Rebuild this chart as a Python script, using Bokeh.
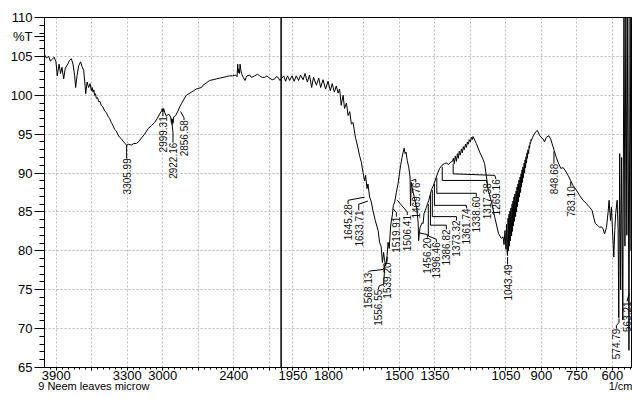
import numpy as np
from bokeh.plotting import figure
from bokeh.models import Range1d, FixedTicker, Span, LinearAxis
from bokeh.embed import file_html
from bokeh.resources import INLINE
from bokeh.core.properties import value

# ---------------- spectrum data (wavenumber 1/cm, %T) ----------------
wn_1 = [3999, 3985, 3965, 3950, 3936, 3919, 3903, 3892, 3877, 3864,
        3852, 3838, 3824, 3807, 3787, 3773, 3759, 3745, 3737, 3725,
        3711, 3695, 3683, 3669, 3657, 3652, 3640, 3627, 3615, 3604,
        3597, 3590, 3583, 3576, 3569, 3562, 3552, 3542, 3531, 3520,
        3506, 3492, 3478, 3463, 3449, 3435, 3421, 3407, 3393, 3378]
tr_1 = [105.2, 104.8, 105.0, 104.4, 104.6, 104.9, 104.3, 102.5, 104.0, 102.8,
        103.6, 102.1, 103.5, 103.9, 104.5, 104.7, 104.0, 102.5, 101.0, 102.5,
        103.8, 104.3, 103.7, 103.2, 101.3, 100.2, 101.7, 101.0, 101.5, 100.6,
        101.0, 100.4, 100.7, 100.0, 100.2, 99.6, 99.7, 99.2, 99.2, 98.7,
        98.5, 98.0, 97.8, 97.3, 97.0, 96.5, 96.1, 95.6, 95.4, 94.9]

wn_2 = [3365, 3350, 3336, 3320, 3306, 3290, 3266, 3245, 3224, 3200,
        3181, 3154, 3125, 3097, 3069, 3048, 3027, 3010, 3005, 2999,
        2993, 2984, 2970, 2951, 2934, 2928, 2925, 2922, 2918, 2914,
        2908, 2891, 2871, 2858, 2843, 2821, 2801, 2780, 2759, 2738,
        2717, 2695, 2674, 2660, 2632, 2604, 2576, 2548, 2520, 2491,
        2463, 2435, 2410, 2384, 2372, 2367, 2362, 2356, 2351, 2347,
        2341, 2334, 2320, 2305, 2296, 2288, 2266, 2250, 2224, 2200,
        2181, 2160, 2139, 2120, 2097, 2075, 2054, 2040, 2026, 2010,
        2000]
tr_2 = [94.6, 94.4, 94.1, 93.8, 93.6, 93.7, 93.6, 93.8, 93.8, 94.1,
        94.5, 95.0, 95.7, 96.1, 96.5, 97.0, 97.6, 98.0, 98.3, 97.9,
        98.3, 97.8, 97.3, 97.6, 97.2, 96.5, 97.0, 96.2, 96.9, 96.4,
        97.2, 97.4, 98.0, 98.5, 98.9, 99.5, 100.0, 100.2, 100.4, 100.6,
        100.8, 100.9, 101.0, 101.3, 101.6, 101.9, 102.0, 102.1, 102.2, 102.3,
        102.4, 102.5, 102.5, 102.6, 102.4, 104.0, 102.9, 103.4, 102.8, 104.0,
        103.3, 102.8, 102.3, 101.9, 102.3, 102.5, 102.6, 102.3, 102.5, 102.7,
        102.5, 102.3, 102.3, 102.5, 102.2, 102.0, 102.1, 102.4, 102.3, 101.9,
        102.1]

wn_3 = [1989, 1981, 1973, 1964, 1954, 1945, 1936, 1926, 1918, 1907,
        1899, 1889, 1880, 1871, 1863, 1851, 1841, 1833, 1823, 1812,
        1802, 1792, 1784, 1775, 1767, 1759, 1753, 1746, 1738, 1732,
        1724, 1717, 1710, 1703, 1696, 1686, 1678, 1669, 1661, 1654,
        1647, 1643, 1637, 1633, 1626, 1619, 1612, 1602, 1590, 1584,
        1577, 1572, 1567, 1563, 1558, 1552, 1548, 1543, 1537, 1530,
        1526, 1520, 1513, 1506, 1500, 1495, 1489, 1485, 1480, 1476,
        1472, 1467, 1461, 1455, 1453, 1450, 1444, 1436, 1427, 1421,
        1419, 1413, 1404, 1400, 1396, 1386, 1376, 1365, 1354, 1344,
        1337, 1330, 1320, 1311, 1302, 1292, 1284, 1276]
tr_3 = [102.5, 101.8, 102.5, 101.9, 102.5, 101.8, 102.5, 101.9, 102.6, 102.0,
        102.8, 101.7, 102.6, 101.0, 102.3, 101.3, 102.2, 101.0, 102.0, 100.8,
        101.8, 100.6, 101.5, 100.4, 101.2, 100.3, 100.8, 98.7, 100.0, 98.3,
        99.0, 97.4, 97.9, 96.3, 96.5, 94.6, 93.6, 92.3, 91.4, 90.1,
        89.0, 89.7, 88.0, 88.6, 86.9, 86.3, 85.2, 83.9, 82.6, 81.1,
        80.5, 78.5, 79.8, 78.8, 78.1, 79.4, 81.1, 80.3, 83.3, 84.6,
        85.8, 86.3, 87.5, 88.6, 89.9, 91.0, 92.0, 92.6, 93.2, 92.5,
        92.7, 91.6, 90.8, 89.5, 85.8, 88.8, 87.8, 86.7, 85.4, 83.7,
        81.3, 83.0, 83.6, 83.5, 84.8, 85.6, 86.5, 87.8, 88.6, 89.5,
        90.1, 90.6, 91.0, 91.2, 91.3, 91.1, 91.4, 91.5]

wn_4 = [1272, 1268, 1264, 1259, 1255, 1251, 1247, 1243, 1238, 1234,
        1230, 1226, 1221, 1217, 1213, 1209, 1205, 1200, 1196, 1192, 1189]
tr_4 = [91.9, 91.2, 92.2, 91.5, 92.5, 91.9, 92.8, 92.3, 93.1, 92.6,
        93.4, 93.0, 93.7, 93.3, 94.0, 93.7, 94.3, 94.0, 94.6, 94.3, 94.7]

wn_5 = [1175, 1161, 1147, 1140, 1133, 1125, 1111, 1097, 1081, 1069,
        1062, 1058, 1054, 1050, 1047, 1045, 1043, 1041, 1039, 1037,
        1035, 1033, 1031, 1029, 1026, 1024, 1022, 1020, 1018, 1016,
        1014, 1012, 1009, 1007, 1005, 1003, 1001, 999, 997, 995,
        993, 990, 988, 986, 984, 982, 980, 978, 976, 973,
        971, 969, 967, 965, 963, 961, 959, 957, 954, 952,
        950, 948, 946, 944, 942, 937]
tr_5 = [93.8, 92.7, 91.8, 91.2, 89.7, 87.8, 86.3, 84.3, 82.2, 81.6,
        81.8, 80.8, 82.6, 80.2, 83.4, 79.8, 79.4, 84.2, 80.0, 84.7,
        80.6, 85.1, 81.3, 85.5, 81.9, 86.0, 82.5, 86.4, 83.2, 86.9,
        83.8, 87.3, 84.4, 87.7, 85.0, 88.2, 85.7, 88.6, 86.3, 89.1,
        86.9, 89.5, 87.5, 89.9, 88.2, 90.4, 88.8, 90.8, 89.4, 91.3,
        90.0, 91.7, 90.7, 92.1, 91.3, 92.6, 91.9, 93.0, 92.5, 93.5,
        93.2, 93.9, 93.8, 94.3, 94.2, 94.6]

wn_6 = [930, 924, 917, 907, 893, 887, 879, 869, 861, 855,
        846, 837, 827, 818, 808, 799, 787, 776, 766, 752,
        738, 724, 710, 700, 696, 686, 679, 672, 663, 654,
        646, 639, 633, 625, 618, 614, 608, 604, 600, 594,
        590, 586, 580, 576, 573, 569, 565, 561, 556, 551,
        547, 543, 539, 535, 530, 525, 521, 518]
tr_6 = [95.0, 95.3, 95.5, 94.8, 94.4, 94.0, 94.6, 94.8, 94.4, 93.8,
        92.9, 92.0, 91.2, 90.6, 90.7, 90.3, 89.7, 89.0, 88.4, 87.8,
        87.1, 86.5, 86.1, 85.7, 85.6, 85.2, 84.3, 83.5, 83.3, 83.0,
        83.1, 82.8, 82.2, 83.0, 85.0, 86.5, 83.9, 85.6, 83.0, 79.2,
        82.6, 84.8, 86.5, 83.0, 71.4, 92.5, 75.0, 92.0, 71.1, 112.0,
        80.6, 112.0, 82.0, 112.0, 67.2, 112.0, 80.0, 112.0]

# ---------------- peak labels ----------------
pk_text = ["3305.99", "2999.31", "2922.16", "2856.58", "1645.28", "1633.71",
           "1568.13", "1556.55", "1539.20", "1519.91", "1506.41", "1469.76",
           "1456.20", "1396.46", "1386.82", "1373.32", "1361.74", "1338.60",
           "1317.38", "1269.16", "1043.49", "848.68", "783.10", "574.79", "563.21"]
pk_tx = [3306, 2999, 2914, 2821, 1717, 1672, 1633, 1590, 1553, 1513, 1467, 1431,
         1382, 1344, 1302, 1259, 1217, 1175, 1131, 1092, 1043, 847, 776, 583, 538]
pk_ty = [91.9, 97.3, 93.9, 96.8, 86.0, 85.2, 77.2, 75.0, 78.5, 84.4, 84.6, 88.8,
         81.7, 81.1, 82.75, 83.9, 85.45, 87.0, 88.7, 89.2, 78.25, 91.2, 88.3, 70.0, 73.5]
lead_w = [[3306, 3306], [2999, 2999], [2914, 2914, 2921], [2821, 2821, 2849],
          [1717, 1717, 1647], [1672, 1672, 1633], [1633, 1627, 1569, 1555],
          [1590, 1585, 1567, 1561], [1553, 1551], [1513, 1513, 1526],
          [1467, 1467, 1509], [1431, 1431, 1450], [1382, 1382, 1415],
          [1344, 1344, 1378, 1378], [1302, 1302, 1369, 1369], [1259, 1259, 1361, 1361],
          [1217, 1217, 1352, 1352], [1175, 1175, 1342, 1342], [1131, 1131, 1319, 1319],
          [1092, 1097, 1273, 1273], [1043, 1043], [847, 847], [776, 776],
          [583, 583, 572, 572], [538, 533, 528]]
lead_t = [[91.9, 93.6], [97.3, 98.1], [93.9, 95.2, 96.2], [96.8, 97.1, 97.9],
          [86.0, 86.5, 86.9], [85.2, 86.0, 86.4], [77.2, 77.4, 77.6, 78.5],
          [75.0, 75.5, 75.7, 78.3], [78.5, 79.2], [84.4, 84.9, 85.4],
          [84.6, 85.0, 86.5], [88.8, 89.2, 89.0], [81.7, 82.1, 82.3],
          [81.1, 81.5, 81.9, 86.0], [82.75, 83.3, 83.3, 87.2], [83.9, 84.4, 84.4, 87.8],
          [85.45, 85.85, 85.85, 88.6], [87.0, 87.4, 87.4, 89.4], [88.7, 89.05, 89.05, 90.8],
          [89.2, 89.7, 89.9, 91.2], [78.25, 79.2], [91.2, 92.8], [88.3, 88.9],
          [70.0, 70.4, 70.8, 71.3], [73.5, 74.1, 74.5]]

# ---------------- axis ticks ----------------
tick_wn = [3900, 3600, 3300, 3000, 2700, 2400, 2100, 2000, 1950, 1800, 1650,
           1500, 1350, 1200, 1050, 900, 750, 600]
tick_lab = ["3900", "", "3300", "3000", "", "2400", "", "", "1950", "1800", "",
            "1500", "1350", "", "1050", "900", "750", "600"]
y_ticks = [65, 70, 75, 80, 85, 90, 95, 100, 105, 110]
y_unit_pos = 107.5
footer_text = ["9 Neem leaves microw", "1/cm"]
footer_u = [417, 4877]


def to_u(w):
    """Axis coordinate: scale doubles below 2000 1/cm (as on the instrument)."""
    w = np.asarray(w, dtype=float)
    return np.where(w >= 2000, 4000 - w, 2000 + 2 * (2000 - w))


wn = wn_1 + wn_2 + wn_3 + wn_4 + wn_5 + wn_6
tr = tr_1 + tr_2 + tr_3 + tr_4 + tr_5 + tr_6

FONT = "Liberation Sans"

p = figure(width=632, height=402, output_backend="svg", toolbar_location=None,
           x_range=Range1d(0, 4970), y_range=Range1d(65, 110), title=None,
           min_border_left=44, min_border_right=0, min_border_top=17, min_border_bottom=35)
p.background_fill_color = "white"
p.border_fill_color = "white"
p.outline_line_color = "black"

# grid
for g in (p.xgrid, p.ygrid):
    g.grid_line_color = "#b8b8b8"
    g.grid_line_dash = "2 2"
    g.grid_line_width = 1

# x axis
u_ticks = [int(v) for v in to_u(tick_wn)]
minor_w = list(range(3950, 2000, -50)) + list(range(1975, 500, -25))
p.xaxis.ticker = FixedTicker(ticks=u_ticks, minor_ticks=[float(v) for v in to_u(minor_w)])
p.xaxis.major_label_overrides = {u: lab for u, lab in zip(u_ticks, tick_lab)}
p.xaxis.major_tick_out = 3
p.xaxis.minor_tick_out = 2
p.xaxis.major_label_standoff = 0

# y axis (the unit "%T" sits between 105 and 110)
p.yaxis.ticker = FixedTicker(ticks=y_ticks + [y_unit_pos], minor_ticks=list(range(65, 111)))
p.yaxis.major_label_overrides = {y_unit_pos: "%T"}
p.ygrid.ticker = FixedTicker(ticks=y_ticks)
p.yaxis.major_tick_out = 10
p.yaxis.minor_tick_out = 5
p.yaxis.major_label_standoff = 2

for ax in (p.xaxis, p.yaxis):
    ax.major_tick_in = 0
    ax.minor_tick_in = 0
    ax.axis_line_color = "black"
    ax.major_tick_line_color = "black"
    ax.minor_tick_line_color = "black"
    ax.major_label_text_font = FONT
    ax.major_label_text_font_size = "13px"
    ax.major_label_text_color = "black"

# footer line: sample name and unit
foot = LinearAxis(ticker=FixedTicker(ticks=footer_u),
                  major_label_overrides={u: t for u, t in zip(footer_u, footer_text)},
                  axis_line_color=None, major_tick_line_color=None,
                  minor_tick_line_color=None, major_tick_out=0, minor_tick_out=0,
                  major_tick_in=0, minor_tick_in=0, major_label_standoff=-3,
                  major_label_text_font=FONT, major_label_text_font_size="11px",
                  major_label_text_color="black")
p.add_layout(foot, "below")

# spectrum
p.line(to_u(wn), tr, line_color="black", line_width=1)

# vertical marker at the scale change (2000 1/cm)
p.add_layout(Span(location=float(to_u(2000)), dimension="height",
                  line_color="black", line_width=1.5))

# peak leaders and labels
p.multi_line([list(to_u(w)) for w in lead_w], lead_t, line_color="black", line_width=1)
p.text(x=to_u(pk_tx), y=pk_ty, text=pk_text, angle=np.pi / 2,
       text_align="right", text_baseline="middle", text_font=value(FONT),
       text_font_size="10px", text_color="#111111")

open("out.html", "w").write(file_html(p, INLINE))
